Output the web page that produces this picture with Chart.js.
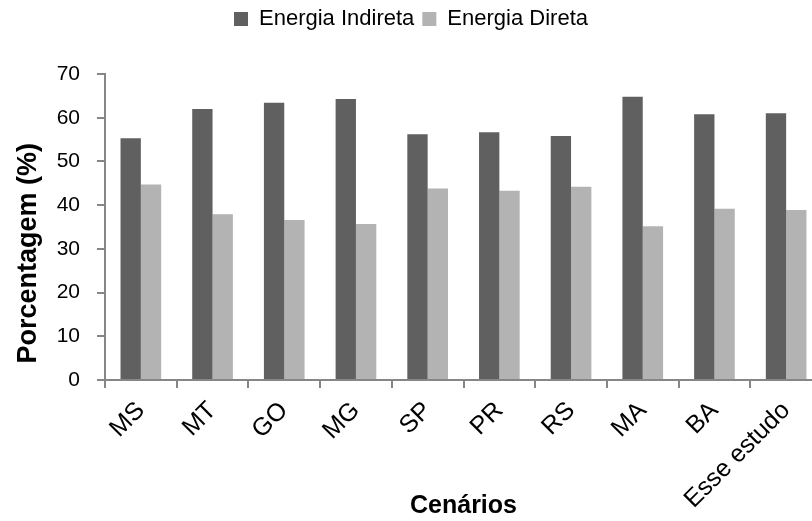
<!DOCTYPE html>
<html>
<head>
<meta charset="utf-8">
<script src="https://cdn.jsdelivr.net/npm/chart.js@4.4.0/dist/chart.umd.min.js"></script>
<style>
  html, body { margin: 0; padding: 0; background: #fff; overflow: hidden; }
  #wrap { width: 830px; height: 521px; }
</style>
</head>
<body>
<div id="wrap"><canvas id="chart"></canvas></div>
<script>
// categories and values
var cenarios = ['MS', 'MT', 'GO', 'MG', 'SP', 'PR', 'RS', 'MA', 'BA', 'Esse estudo'];
var energiaIndireta = [55.3, 62.0, 63.4, 64.3, 56.2, 56.7, 55.8, 64.8, 60.8, 61.0];
var energiaDireta = [44.7, 37.9, 36.6, 35.7, 43.8, 43.3, 44.2, 35.2, 39.2, 38.9];
var yTicks = [0, 10, 20, 30, 40, 50, 60, 70];

var axisGray = '#868686';
var font = "'Liberation Sans', Arial, sans-serif";

// push the plot down below the legend, like the original
var legendGap = {
    id: 'legendGap',
    beforeInit: function (chart) {
        var fit = chart.legend.fit;
        chart.legend.fit = function () {
            fit.call(this);
            this.height += 34;
        };
    }
};

var ctx = document.getElementById('chart').getContext('2d');
var chart = new Chart(ctx, {
    type: 'bar',
    data: {
        labels: cenarios,
        datasets: [{
            label: 'Energia Indireta',
            data: energiaIndireta,
            backgroundColor: '#606060',
            borderWidth: 0
        }, {
            label: 'Energia Direta',
            data: energiaDireta,
            backgroundColor: '#b3b3b3',
            borderWidth: 0
        }]
    },
    options: {
        responsive: true,
        maintainAspectRatio: false,
        animation: false,
        datasets: {
            bar: { barPercentage: 1, categoryPercentage: 0.567 }
        },
        layout: { padding: { left: 0, right: 8, top: 0, bottom: 0 } },
        plugins: {
            tooltip: { enabled: false },
            legend: {
                position: 'top',
                labels: {
                    color: '#000',
                    font: { family: font, size: 22 },
                    boxWidth: 14,
                    boxHeight: 14,
                    padding: 8
                }
            }
        },
        scales: {
            x: {
                grid: {
                    display: true,
                    drawOnChartArea: false,
                    tickLength: 8,
                    color: axisGray,
                    lineWidth: 2
                },
                border: { color: axisGray, width: 2 },
                ticks: {
                    color: '#000',
                    font: { family: font, size: 25 },
                    maxRotation: 45,
                    minRotation: 45,
                    autoSkip: false,
                    padding: 8
                },
                title: {
                    display: true,
                    text: 'Cenários',
                    color: '#000',
                    font: { family: font, size: 25, weight: 'bold' },
                    padding: { top: 0, bottom: 0 }
                },
                afterFit: function (scale) { scale.height = 141; }
            },
            y: {
                min: 0,
                max: 70,
                afterBuildTicks: function (scale) {
                    scale.ticks = yTicks.map(function (v) { return { value: v }; });
                },
                grid: {
                    display: true,
                    drawOnChartArea: false,
                    tickLength: 8,
                    color: axisGray,
                    lineWidth: 2
                },
                border: { color: axisGray, width: 2 },
                ticks: {
                    color: '#000',
                    font: { family: font, size: 21 },
                    padding: 17
                },
                title: {
                    display: true,
                    // trailing spaces nudge the centred title down, as in the original
                    text: 'Porcentagem (%)\u00a0\u00a0\u00a0\u00a0\u00a0\u00a0\u00a0',
                    color: '#000',
                    font: { family: font, size: 27, weight: 'bold' },
                    padding: { top: 12, bottom: 4 }
                },
                afterFit: function (scale) { scale.width = 105; }
            }
        }
    },
    plugins: [legendGap]
});
</script>
</body>
</html>
